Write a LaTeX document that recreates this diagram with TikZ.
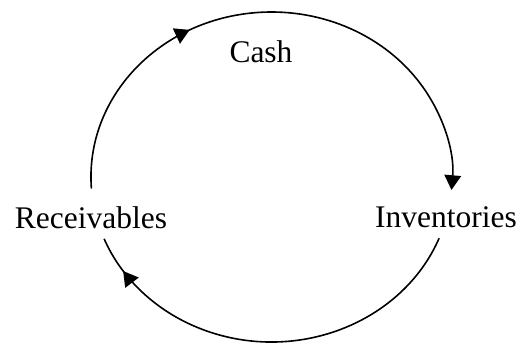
\documentclass[tikz,border=0pt]{standalone}
\usepackage{fontspec}
\setmainfont{Liberation Serif}
\usetikzlibrary{arrows.meta,decorations.markings}

\begin{document}
\begin{tikzpicture}[
  x=0.75pt, y=0.75pt,
  term/.style={font=\fontsize{23.6}{28}\selectfont, anchor=base, inner sep=0pt},
  flow/.style={line width=1.2pt, -{Triangle[length=11pt, width=12.5pt]}},
  midarrow/.style={postaction={decorate, decoration={markings,
      mark=at position #1 with {\arrow{Triangle[length=11pt, width=12.5pt]}}}}},
]

\useasboundingbox (0,0) rectangle (521,344);

% === labels ===
\node[term] (cash) at (261,282) {Cash};
\node[term] (recv) at (91,116) {Receivables};
\node[term] (inv) at (446,117) {Inventories};

% === cycle ===
\coordinate (c) at (271.5,167);
\path (c) ++(184:135.4pt and 123.75pt) coordinate (topstart);
\path (c) ++(-21.8:135.4pt and 123.75pt) coordinate (botstart);

\draw[flow, midarrow=0.35] (topstart)
  arc[start angle=184, end angle=-4.5, x radius=135.4pt, y radius=123.75pt];
\draw[line width=1.2pt, midarrow=0.91] (botstart)
  arc[start angle=-21.8, end angle=-158, x radius=135.4pt, y radius=123.75pt];

\end{tikzpicture}
\end{document}
